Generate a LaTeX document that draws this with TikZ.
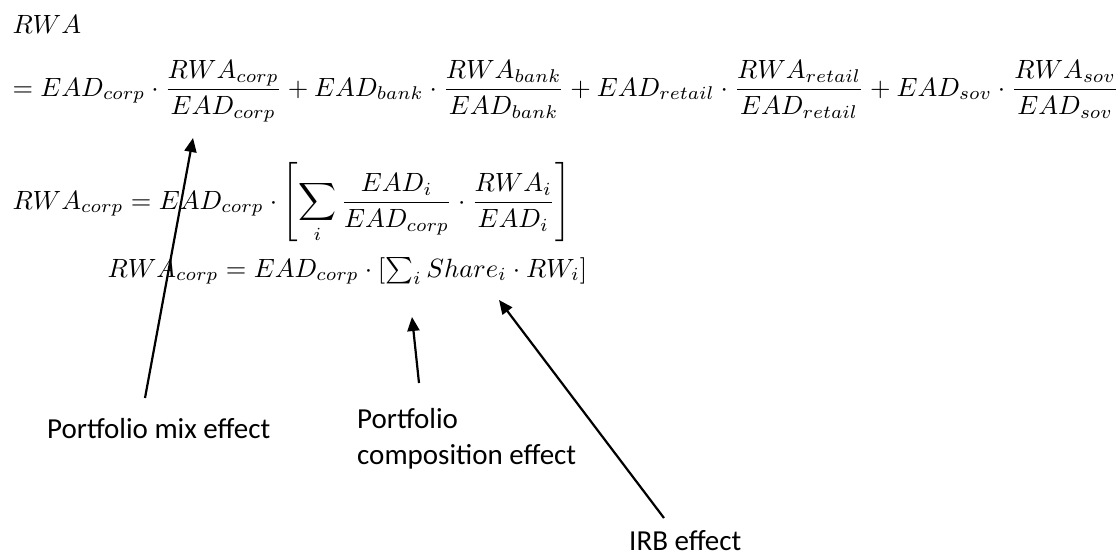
\documentclass[tikz,border=0pt]{standalone}
\usepackage{amsmath}
\usepackage{fontspec}
\newfontfamily\labfont{Carlito}
\usetikzlibrary{arrows.meta}
\begin{document}
\begin{tikzpicture}[x=1pt,y=-1pt,
  eq/.style={inner sep=0pt, anchor=base west, scale=2.64},
  lab/.style={inner sep=0pt, anchor=base west, align=left, font=\labfont\fontsize{29}{36}\selectfont},
  arr/.style={line width=2.2pt, -{Triangle[length=14pt,width=12pt]}}]
\useasboundingbox (0,0) rectangle (1120,560);
\node[eq] (l1) at (12,33) {$RWA$};
\node[eq] (l2) at (12,96) {$= EAD_{corp}\cdot\dfrac{RWA_{corp}}{EAD_{corp}} + EAD_{bank}\cdot\dfrac{RWA_{bank}}{EAD_{bank}} + EAD_{retail}\cdot\dfrac{RWA_{retail}}{EAD_{retail}} + EAD_{sov}\cdot\dfrac{RWA_{sov}}{EAD_{sov}}$};
\node[eq] (l3) at (12,209) {$\displaystyle RWA_{corp} = EAD_{corp}\cdot\left[\sum_i \frac{EAD_i}{EAD_{corp}}\cdot\frac{RWA_i}{EAD_i}\right]$};
\node[eq] (l4) at (107,277) {$RWA_{corp} = EAD_{corp}\cdot[\textstyle\sum_i Share_i\cdot RW_i]$};
\node[lab] (mix) at (47,438) {Portfolio mix effect};
\node[lab] (comp) at (357,464) {Portfolio\\composition effect};
\node[lab] (irb) at (629,550) {IRB effect};
\coordinate (m0) at (145,398);
\coordinate (m1) at (193,138);
\coordinate (c0) at (419,383);
\coordinate (c1) at (412,317);
\coordinate (i0) at (664,518);
\coordinate (i1) at (499,300);
\draw[arr] (m0) -- (m1);
\draw[arr] (c0) -- (c1);
\draw[arr] (i0) -- (i1);
\end{tikzpicture}
\end{document}
